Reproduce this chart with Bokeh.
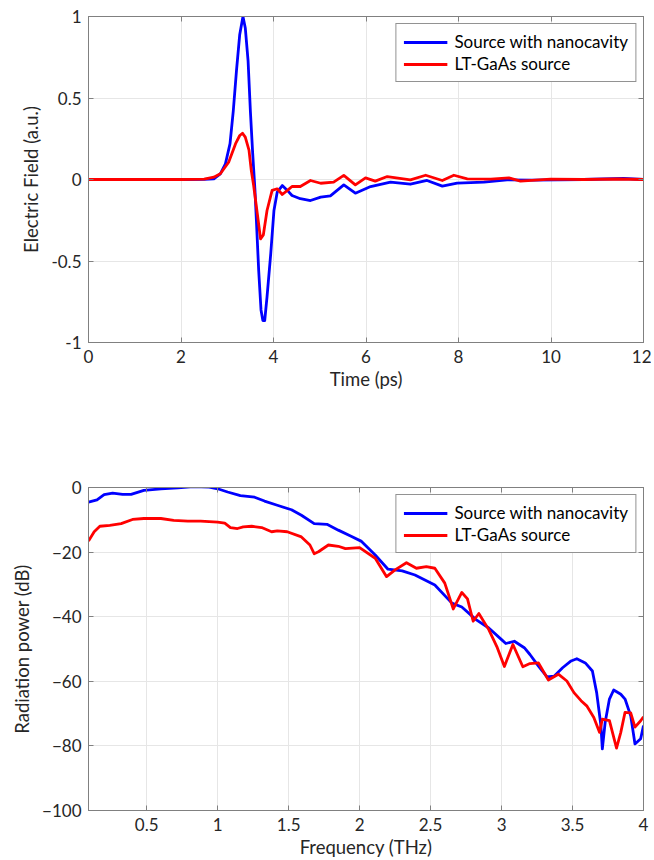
from bokeh.plotting import figure
from bokeh.layouts import column
from bokeh.models import Range1d, FixedTicker, LinearAxis, Legend, LegendItem
from bokeh.embed import file_html
from bokeh.resources import INLINE

# ---- Top panel: time-domain electric field ----
t_nano = [0, 2.0, 2.5, 2.71, 2.85, 2.96, 3.06, 3.13, 3.2, 3.27, 3.34, 3.39, 3.45, 3.50, 3.55,
          3.6, 3.63, 3.68, 3.73, 3.77, 3.81, 3.86, 3.94, 4.01, 4.08, 4.19, 4.30, 4.40, 4.58,
          4.80, 5.02, 5.23, 5.52, 5.77, 6.1, 6.53, 6.96, 7.32, 7.65, 7.97, 8.55, 9.05, 9.6,
          10.7, 11.57, 12]
e_nano = [0, 0, 0.001, 0.004, 0.035, 0.096, 0.22, 0.42, 0.67, 0.89, 1.0, 0.93, 0.73, 0.42, 0.16,
          -0.07, -0.25, -0.56, -0.80, -0.865, -0.865, -0.72, -0.456, -0.19, -0.078, -0.037,
          -0.067, -0.098, -0.118, -0.129, -0.108, -0.10, -0.033, -0.084, -0.043, -0.016, -0.029,
          -0.006, -0.041, -0.022, -0.016, -0.002, -0.004, 0.0, 0.006, 0.0]

t_lt = [0, 2.0, 2.5, 2.71, 2.85, 3.03, 3.18, 3.27, 3.33, 3.39, 3.47, 3.52, 3.57, 3.65, 3.72,
        3.78, 3.86, 3.97, 4.08, 4.19, 4.30, 4.40, 4.58, 4.80, 5.02, 5.30, 5.52, 5.77, 5.99, 6.2,
        6.46, 6.96, 7.29, 7.65, 7.9, 8.19, 8.7, 9.09, 9.34, 9.99, 10.7, 11.43, 12]
e_lt = [0, 0, 0.002, 0.014, 0.035, 0.106, 0.22, 0.27, 0.284, 0.26, 0.18, 0.055, -0.035, -0.21,
        -0.364, -0.34, -0.19, -0.067, -0.057, -0.092, -0.067, -0.043, -0.043, -0.006, -0.023,
        -0.016, 0.025, -0.033, 0.01, -0.01, 0.018, -0.002, 0.026, -0.006, 0.026, 0.004, 0.002,
        0.01, -0.01, 0.002, 0.0, 0.003, 0.0]

top_xticks = [0, 2, 4, 6, 8, 10, 12]
top_yticks = [-1, -0.5, 0, 0.5, 1]
top_ylabels = ["-1", "-0.5", "0", "0.5", "1"]

# ---- Bottom panel: radiation power spectrum ----
f_nano = [0.09, 0.15, 0.2, 0.26, 0.33, 0.39, 0.48, 0.6, 0.72, 0.83, 0.94, 1.0, 1.07, 1.16, 1.26,
          1.33, 1.42, 1.52, 1.59, 1.68, 1.77, 1.85, 1.94, 2.01, 2.11, 2.2, 2.3, 2.39, 2.53, 2.65,
          2.72, 2.82, 2.91, 3.0, 3.03, 3.09, 3.16, 3.2, 3.26, 3.32, 3.37, 3.43, 3.49, 3.53, 3.59,
          3.64, 3.67, 3.70, 3.71, 3.73, 3.76, 3.79, 3.84, 3.87, 3.91, 3.94, 3.98, 4.0]
p_nano = [-4.5, -3.8, -2.2, -1.75, -2.15, -2.15, -0.9, -0.4, -0.1, 0.3, 0.1, -0.4, -1.4, -2.5,
          -3.0, -4.2, -5.5, -6.9, -8.6, -11.2, -11.4, -13.2, -15.1, -16.6, -20.9, -25.3, -25.8,
          -27.1, -30.2, -35.8, -37.0, -40.9, -43.5, -47.1, -48.3, -47.6, -49.6, -51.7, -55.3,
          -58.6, -58.4, -55.8, -53.7, -53.0, -54.3, -56.8, -63.5, -73.7, -80.9, -72.7, -65.5,
          -62.7, -64.0, -65.5, -70.7, -79.4, -77.8, -73.7]

f_lt = [0.09, 0.13, 0.17, 0.24, 0.32, 0.4, 0.48, 0.6, 0.69, 0.79, 0.88, 1.0, 1.05, 1.09, 1.14,
        1.18, 1.24, 1.31, 1.38, 1.42, 1.49, 1.59, 1.65, 1.68, 1.71, 1.78, 1.85, 1.9, 2.0, 2.11,
        2.19, 2.25, 2.33, 2.4, 2.47, 2.53, 2.6, 2.66, 2.72, 2.76, 2.8, 2.84, 2.91, 2.97, 3.02,
        3.08, 3.15, 3.2, 3.26, 3.33, 3.40, 3.46, 3.51, 3.56, 3.60, 3.65, 3.69, 3.71, 3.76, 3.81,
        3.84, 3.87, 3.91, 3.94, 3.98, 4.0]
p_lt = [-16.6, -13.7, -12.0, -11.7, -11.2, -9.9, -9.6, -9.6, -10.2, -10.4, -10.4, -10.7, -11.0,
        -12.4, -12.7, -12.2, -12.0, -12.4, -13.7, -13.4, -13.7, -15.3, -17.8, -20.5, -19.9,
        -17.8, -18.2, -18.9, -18.6, -21.9, -27.6, -25.5, -23.3, -25.0, -24.5, -25.0, -29.6,
        -37.6, -32.5, -34.5, -41.4, -39.0, -44.0, -49.6, -55.4, -48.6, -55.5, -54.5, -54.3,
        -59.6, -57.8, -59.9, -63.5, -66.0, -67.6, -71.2, -75.8, -71.7, -72.2, -80.7, -75.8,
        -69.6, -69.8, -74.2, -72.2, -71.0]

bot_xticks = [0.5, 1, 1.5, 2, 2.5, 3, 3.5, 4]
bot_xlabels = ["0.5", "1", "1.5", "2", "2.5", "3", "3.5", "4"]
bot_yticks = [-100, -80, -60, -40, -20, 0]

series_names = ["Source with nanocavity", "LT-GaAs source"]
series_colors = ["#0000ff", "#ff0000"]

FONT = "Lato"
TXT = "#262626"
AX = "#808080"
GRID = "#e6e6e6"
FS_TICK = "17px"
FS_LABEL = "18.5px"
FS_LEG = "17px"


def style(p, xticks, yticks, xlab, ylab, xover=None, yover=None):
    for ax in p.xaxis + p.yaxis:
        ax.axis_line_color = AX
        ax.major_tick_line_color = AX
        ax.major_tick_in = 5
        ax.major_tick_out = 0
        ax.minor_tick_line_color = None
        ax.major_label_text_font = FONT
        ax.major_label_text_font_size = FS_TICK
        ax.major_label_text_color = TXT
        ax.axis_label_text_font = FONT
        ax.axis_label_text_font_size = FS_LABEL
        ax.axis_label_text_color = TXT
        ax.axis_label_text_font_style = "normal"
    p.xaxis.ticker = FixedTicker(ticks=xticks)
    p.yaxis.ticker = FixedTicker(ticks=yticks)
    if xover:
        p.xaxis.major_label_overrides = xover
    if yover:
        p.yaxis.major_label_overrides = yover
    p.xaxis.axis_label = xlab
    p.yaxis.axis_label = ylab
    p.xaxis.major_label_standoff = 7
    p.xaxis.axis_label_standoff = 2
    p.yaxis.major_label_standoff = 7
    p.yaxis.axis_label_standoff = 6
    p.xgrid.ticker = FixedTicker(ticks=xticks)
    p.ygrid.ticker = FixedTicker(ticks=yticks)
    p.grid.grid_line_color = GRID
    p.outline_line_color = AX
    p.background_fill_color = "white"
    p.border_fill_color = "white"
    # mirror tick marks on right and top (no labels)
    r = LinearAxis(ticker=FixedTicker(ticks=yticks),
                   major_label_overrides={v: "" for v in yticks},
                   major_tick_in=5, major_tick_out=0, major_label_standoff=0,
                   axis_line_color=AX, major_tick_line_color=AX, minor_tick_line_color=None)
    a = LinearAxis(ticker=FixedTicker(ticks=xticks),
                   major_label_overrides={v: "" for v in xticks},
                   major_tick_in=5, major_tick_out=0, major_label_standoff=0,
                   axis_line_color=AX, major_tick_line_color=AX, minor_tick_line_color=None)
    p.add_layout(r, "right")
    p.add_layout(a, "above")


def add_legend(p, renderers):
    items = [LegendItem(label=n, renderers=[r]) for n, r in zip(series_names, renderers)]
    lg = Legend(items=items, location="top_right")
    lg.label_text_font = FONT
    lg.label_text_font_size = FS_LEG
    lg.label_text_color = "#000000"
    lg.glyph_width = 44
    lg.glyph_height = 20
    lg.label_height = 20
    lg.label_standoff = 7
    lg.padding = 7
    lg.spacing = 1
    lg.margin = 7
    lg.border_line_color = TXT
    lg.border_line_width = 1
    lg.background_fill_color = "white"
    lg.background_fill_alpha = 1
    p.add_layout(lg)


p1 = figure(width=651, height=400, x_range=Range1d(0, 12), y_range=Range1d(-1, 1),
            output_backend="svg", toolbar_location=None,
            min_border_left=88, min_border_right=8, min_border_top=16, min_border_bottom=58)
style(p1, top_xticks, top_yticks, "Time (ps)", "Electric Field (a.u.)",
      yover={v: s for v, s in zip(top_yticks, top_ylabels)})
r1 = p1.line(t_nano, e_nano, line_color=series_colors[0], line_width=2.8, line_join="round")
r2 = p1.line(t_lt, e_lt, line_color=series_colors[1], line_width=2.8, line_join="round")
add_legend(p1, [r1, r2])

p2 = figure(width=651, height=460, x_range=Range1d(0.09, 4), y_range=Range1d(-100, 0),
            output_backend="svg", toolbar_location=None,
            min_border_left=88, min_border_right=8, min_border_top=87, min_border_bottom=48)
style(p2, bot_xticks, bot_yticks, "Frequency (THz)", "Radiation power (dB)",
      xover={v: s for v, s in zip(bot_xticks, bot_xlabels)})
r3 = p2.line(f_nano, p_nano, line_color=series_colors[0], line_width=2.8, line_join="round")
r4 = p2.line(f_lt, p_lt, line_color=series_colors[1], line_width=2.8, line_join="round")
add_legend(p2, [r3, r4])

layout = column(p1, p2, spacing=0)
open("out.html", "w").write(file_html(layout, INLINE))
